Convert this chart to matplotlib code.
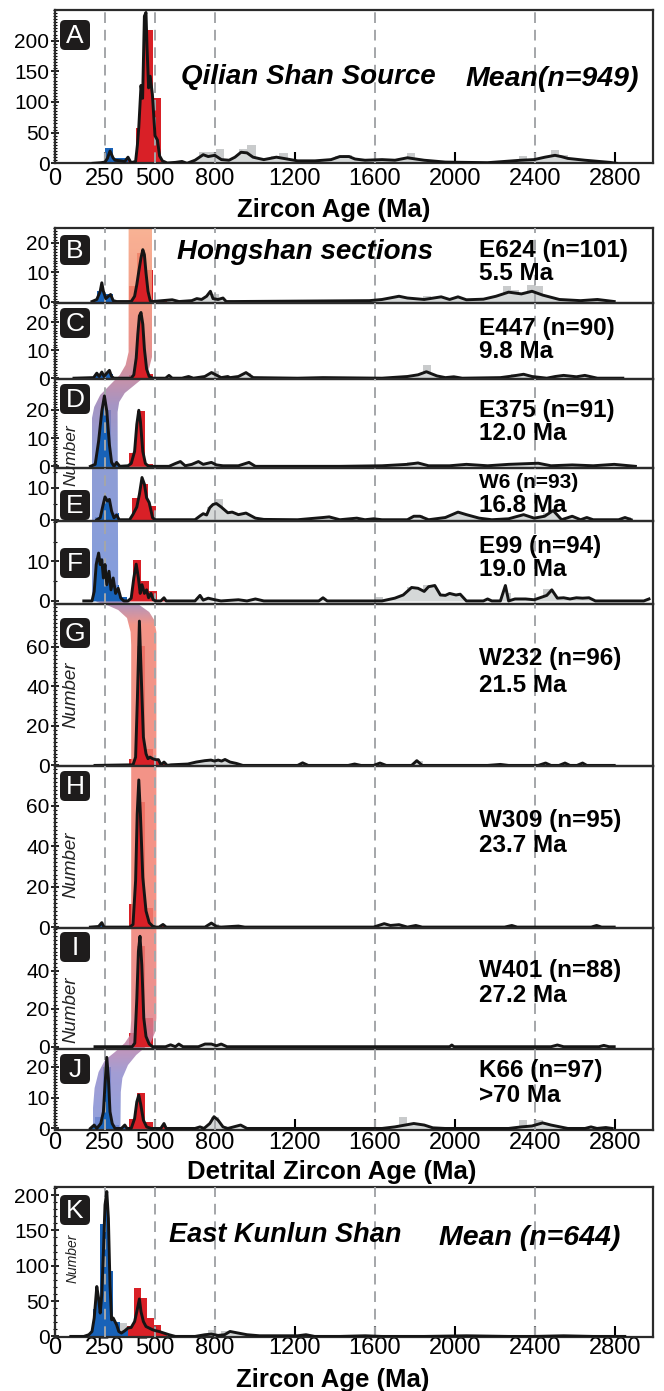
import numpy as np
import matplotlib
matplotlib.use('Agg')
import matplotlib.pyplot as plt
import matplotlib.patches as mpatches
import matplotlib.transforms as mtransforms
from matplotlib.ticker import MultipleLocator

plt.rcParams['font.family'] = ['Liberation Sans', 'DejaVu Sans']

# ---- data: (age Ma, number) for the density curves ----
A_kde = [(190, 0), (230, 1), (250, 2), (262, 8), (275, 20), (290, 9), (300, 5), (330, 4), (349, 3), (365, 10),
         (380, 1), (403, 3), (412, 30), (419, 59), (430, 127), (438, 106), (447, 240), (455, 246), (460, 190),
         (468, 123), (476, 142), (487, 112), (500, 45), (512, 38), (523, 12), (537, 4), (561, 0.5), (602, 1.5),
         (635, 3), (660, 0), (700, 5), (741, 14), (766, 11), (799, 13), (832, 6), (870, 5), (900, 10), (930, 18),
         (960, 17), (990, 10), (1044, 6), (1107, 10), (1160, 7), (1213, 4), (1300, 4), (1380, 6), (1424, 11),
         (1470, 11), (1500, 7), (1550, 5), (1635, 6), (1700, 5), (1762, 9), (1846, 5), (1952, 2), (2163, 1),
         (2330, 5), (2395, 6), (2450, 10), (2500, 13), (2530, 11), (2564, 8), (2650, 5), (2775, 1.5), (2807, 0)]
B_kde = [(185, 0), (209, 0.7), (226, 3.5), (234, 6.4), (242, 3.5), (254, 1), (267, 1.8), (278, 2.4), (291, 0.3),
         (308, 0), (381, 0), (398, 1.8), (409, 5.8), (419, 10.3), (430, 14.9), (439, 17.7), (447, 16), (455, 9.8),
         (465, 3.5), (476, 0.3), (488, 0), (586, 0.6), (620, 0), (684, 0.3), (709, 1), (733, 0.7), (758, 1.8),
         (777, 3.5), (790, 1), (815, 0.7), (840, 1.2), (856, 0), (896, 0), (1572, 0.3), (1635, 0.7), (1720, 1.8),
         (1762, 1.2), (1846, 0.7), (1931, 1.6), (1973, 0.7), (2015, 1.6), (2057, 0.6), (2142, 0.8), (2205, 1.8),
         (2268, 3.2), (2332, 2.6), (2385, 3.5), (2438, 2.2), (2522, 0.7), (2628, 0.3), (2712, 0.7), (2796, 0)]
C_kde = [(95, 0), (193, 0.2), (209, 1.8), (221, 0.6), (234, 2.2), (245, 0.6), (259, 1.8), (272, 2.8), (283, 0.6),
         (295, 0), (381, 0), (394, 1.2), (406, 7.2), (414, 15.7), (422, 22.3), (430, 23.5), (439, 19.3), (447, 10.5),
         (458, 3.3), (471, 0.6), (488, 0), (553, 0), (570, 1), (586, 0), (635, 0), (668, 0.6), (692, 0), (749, 0.6),
         (782, 2), (807, 1.1), (831, 0.2), (864, 0.6), (875, 0.2), (917, 0.6), (955, 2), (991, 0.2), (1213, 0),
         (1340, 0.2), (1635, 0), (1762, 0.6), (1815, 1.2), (1857, 2.3), (1910, 0.8), (1952, 0.2), (1994, 0.5),
         (2036, 0), (2227, 0.2), (2290, 0.8), (2343, 1.4), (2385, 0.6), (2459, 0), (2501, 0.6), (2543, 1),
         (2607, 0.5), (2649, 1), (2712, 0), (2839, 0)]
D_kde = [(177, 0), (201, 0.7), (218, 8.9), (234, 19.6), (247, 25), (259, 19.6), (272, 7.7), (283, 1.4), (295, 0),
         (308, 1.4), (324, 0), (365, 0.2), (381, 1), (398, 5.3), (409, 14.9), (419, 19.9), (427, 16), (439, 5.3),
         (452, 1), (468, 0), (570, 0), (602, 1), (627, 1.7), (651, 0.2), (684, 0.7), (717, 1.7), (741, 0.7),
         (782, 1.4), (807, 0.5), (840, 0.2), (917, 0.2), (970, 1.4), (1002, 0), (1424, 0), (1635, 0.2), (1762, 0.7),
         (1815, 1.2), (1868, 0.2), (1973, 0.2), (2057, 0.7), (2163, 0.2), (2268, 0.7), (2416, 1.1), (2480, 0.2),
         (2586, 0.5), (2691, 0.2), (2796, 0.7), (2902, 0)]
E_kde = [(209, 0), (226, 0.6), (239, 4.3), (250, 7.2), (262, 5.9), (272, 6.4), (283, 2.7), (295, 0.6), (308, 1.5),
         (321, 0), (373, 0), (390, 1.7), (409, 4), (422, 8), (435, 13.3), (447, 11.2), (458, 6.9), (471, 5.4),
         (488, 0.6), (501, 0), (700, 0), (725, 1.2), (741, 1.9), (758, 1.5), (774, 3.8), (790, 4.8), (807, 5.1),
         (831, 4), (864, 2.2), (886, 2.4), (917, 1.6), (955, 2.1), (1002, 0.5), (1044, 0.1), (1213, 0), (1340, 0.7),
         (1371, 0.9), (1424, 0), (1509, 0.5), (1550, 0), (1593, 0.3), (1635, 0), (1762, 0), (1794, 1.1), (1825, 1.1),
         (1868, 0), (1952, 0.7), (2015, 2.4), (2057, 1.6), (2121, 0.5), (2184, 0), (2268, 0.3), (2343, 1.6),
         (2396, 0.5), (2448, 1.1), (2491, 2.9), (2533, 0), (2586, 1.1), (2628, 0), (2659, 0.7), (2691, 0),
         (2818, 0), (2850, 0.7), (2881, 0)]
F_kde = [(144, 0), (185, 0), (196, 2.4), (206, 9.2), (218, 12.1), (226, 9.2), (234, 10.4), (242, 5.8), (250, 9.2),
         (259, 4.1), (270, 7.5), (280, 2.8), (291, 5.8), (303, 1.9), (316, 3.2), (329, 0.7), (344, 0), (365, 0),
         (381, 0.7), (394, 5.8), (406, 9.3), (417, 5.8), (426, 1.9), (435, 4.1), (447, 1.9), (458, 2.8), (468, 0.8),
         (480, 1.9), (491, 0.3), (504, 0), (529, 0), (545, 0.8), (556, 0), (700, 0), (725, 1.4), (741, 0.2),
         (766, 0.7), (799, 0.3), (830, 0), (917, 0.3), (960, 0), (1002, 0.5), (1044, 0), (1319, 0), (1340, 0.8),
         (1361, 0), (1635, 0), (1699, 0.7), (1741, 1.5), (1783, 3.4), (1815, 3.2), (1846, 2.4), (1868, 3.6),
         (1899, 3.9), (1927, 1.5), (1952, 1.4), (1973, 1.9), (2005, 1.5), (2026, 1.7), (2057, 0), (2142, 0),
         (2163, 0.5), (2184, 0), (2227, 0), (2252, 3.9), (2268, 0), (2300, 0.5), (2353, 0.5), (2396, 0.3),
         (2459, 1.4), (2484, 2.8), (2512, 0.7), (2543, 0.8), (2575, 0.5), (2607, 0.8), (2638, 0.7), (2670, 0.8),
         (2702, 0), (2944, 0), (2970, 0.5)]
G_kde = [(200, 0), (390, 0.3), (403, 4.2), (412, 34), (422, 73), (432, 43), (442, 14.3), (455, 5.9), (465, 3.4),
         (475, 4.2), (488, 3.4), (504, 2.9), (517, 2.9), (530, 0.3), (545, 1.7), (561, 0), (580, 0.3), (664, 0.7),
         (706, 1.7), (749, 2.4), (780, 2.7), (797, 2.2), (816, 2.7), (833, 2.2), (850, 3), (875, 1.7), (907, 1),
         (939, 0), (1213, 0), (1238, 1.3), (1266, 0), (1466, 0), (1498, 0.7), (1530, 0), (1593, 0), (1625, 1.2),
         (1656, 0), (1783, 0), (1809, 2.4), (1836, 0), (2163, 0), (2227, 0.5), (2268, 0), (2416, 0), (2453, 1.2),
         (2480, 0), (2520, 0), (2550, 1.2), (2575, 0), (2610, 0), (2638, 1.2), (2659, 0), (2796, 0)]
H_kde = [(177, 0), (218, 0.3), (234, 2.2), (245, 0), (373, 0), (390, 1.3), (403, 23), (411, 56), (419, 72.8),
         (427, 56), (439, 24.6), (455, 8), (471, 2.2), (488, 0.5), (504, 0), (520, 0), (540, 1.3), (556, 0),
         (750, 0), (782, 2), (807, 0.3), (830, 0), (917, 0.5), (949, 0), (1593, 0), (1646, 1.7), (1677, 0.8),
         (1720, 1.2), (1762, 0), (1804, 0.8), (1836, 0), (2248, 0), (2284, 0.8), (2311, 0), (2681, 0), (2708, 0.8),
         (2733, 0), (2796, 0)]
I_kde = [(200, 0), (386, 0), (399, 1.9), (409, 25), (417, 50), (425, 58), (434, 43), (444, 15), (455, 5.4),
         (471, 1.4), (488, 0), (553, 0), (578, 1), (602, 0), (619, 1.4), (640, 0), (717, 0), (750, 1.4), (782, 1.4),
         (807, 0.5), (831, 1.4), (860, 0), (1973, 0), (1984, 0.9), (1995, 0), (2480, 0), (2512, 0.9), (2543, 0),
         (2720, 0), (2744, 0.7), (2770, 0), (2796, 0)]
J_kde = [(177, 0), (196, 1.1), (209, 0), (229, 1.6), (242, 5.4), (250, 14), (259, 23), (267, 16.2), (275, 5.4),
         (286, 1.6), (300, 0), (332, 0), (349, 1.1), (360, 0), (381, 0), (398, 3.2), (409, 8.6), (419, 10.8),
         (429, 7.6), (442, 2.7), (458, 0.5), (480, 0), (529, 0), (545, 1.6), (556, 0), (700, 0), (725, 0.5),
         (745, 0), (774, 1.6), (795, 3.8), (815, 2.7), (840, 0.5), (864, 0), (928, 1.1), (960, 0), (1635, 0),
         (1699, 0.5), (1751, 1.1), (1794, 1.6), (1846, 1.1), (1889, 0.2), (1950, 0), (2268, 0), (2332, 0.5),
         (2385, 0.8), (2438, 1.8), (2480, 1.1), (2564, 0), (2650, 0), (2680, 0.5), (2710, 0), (2754, 0.3), (2786, 0)]
K_kde = [(79, 0), (144, 0), (169, 2.4), (185, 7), (196, 26), (209, 70.6), (218, 54), (226, 33), (234, 59),
         (242, 120), (250, 186), (259, 205), (267, 167), (275, 73), (283, 23.5), (291, 26), (300, 21), (308, 16.5),
         (319, 7), (332, 4.7), (349, 8), (365, 11.8), (381, 12.7), (398, 21), (409, 35), (422, 53), (430, 35),
         (442, 21), (455, 14), (471, 11.8), (488, 9.4), (504, 8), (520, 7), (545, 4.7), (570, 2.4), (602, 0),
         (700, 0), (750, 2.4), (782, 3.3), (815, 1.4), (848, 2.4), (875, 7), (917, 4.7), (960, 2.4), (1023, 0.9),
         (1213, 0.9), (1255, 2.4), (1298, 0), (1424, 0), (1551, 0.9), (1635, 0), (1846, 0), (2057, 0.9), (2268, 0),
         (2396, 0), (2543, 0.9), (2691, 0), (2849, 0)]

# histogram bars: (bin start Ma, count, group)  b = 200-300 Ma, r = 400-500 Ma, g = other
A_bars = [(250, 25, 'b'), (292, 8, 'b'), (334, 8, 'b'), (405, 57, 'r'), (447, 217, 'r'), (489, 106, 'r'),
          (720, 18, 'g'), (762, 18, 'g'), (804, 24, 'g'), (920, 23, 'g'), (962, 30, 'g'), (1080, 12, 'g'),
          (1122, 16, 'g'), (1400, 12, 'g'), (1442, 14, 'g'), (1760, 16, 'g'), (2320, 12, 'g'), (2480, 22, 'g'),
          (2522, 14, 'g')]
B_bars = [(210, 3.5, 'b'), (250, 2.4, 'b'), (370, 5.2, 'r'), (410, 16.6, 'r'), (450, 10.6, 'r'),
          (780, 2.4, 'g'), (1840, 2, 'g'), (2240, 5.2, 'g'), (2280, 4, 'g'), (2360, 5.5, 'g'), (2400, 5.2, 'g')]
C_bars = [(210, 1.5, 'b'), (250, 1.5, 'b'), (370, 1, 'r'), (410, 6.6, 'r'), (450, 1.5, 'r'),
          (780, 2.4, 'g'), (940, 2, 'g'), (1840, 4.8, 'g'), (2280, 1.5, 'g')]
D_bars = [(200, 2.9, 'b'), (240, 20, 'b'), (280, 1, 'b'), (370, 4.9, 'r'), (410, 19.6, 'r'), (450, 1, 'r'),
          (1760, 1.5, 'g'), (2360, 1.2, 'g')]
E_bars = [(200, 1, 'b'), (240, 5, 'b'), (280, 2, 'b'), (385, 7, 'r'), (425, 11.2, 'r'), (465, 4.3, 'r'),
          (760, 4, 'g'), (800, 6.4, 'g'), (1800, 1.5, 'g'), (2000, 1.5, 'g'), (2440, 2, 'g'), (2840, 1, 'g')]
F_bars = [(200, 10.8, 'b'), (240, 4.5, 'b'), (280, 4.1, 'b'), (320, 1.1, 'b'), (390, 10.4, 'r'), (430, 5.1, 'r'),
          (470, 2.4, 'r'), (1600, 1, 'g'), (1760, 3.5, 'g'), (1840, 4, 'g'), (2240, 2, 'g'), (2440, 3, 'g')]
G_bars = [(372, 3, 'r'), (412, 60.5, 'r'), (452, 8.4, 'r'), (800, 2, 'g'), (1800, 2, 'g')]
H_bars = [(372, 11.3, 'r'), (412, 62, 'r'), (452, 9.6, 'r'), (780, 1.5, 'g'), (1640, 1.5, 'g')]
I_bars = [(372, 7.2, 'r'), (412, 52.8, 'r'), (452, 15, 'r'), (780, 1.5, 'g')]
J_bars = [(200, 3.8, 'b'), (240, 20, 'b'), (280, 1, 'b'), (372, 3.2, 'r'), (412, 11.4, 'r'), (452, 2, 'r'),
          (780, 3.8, 'g'), (1720, 3.8, 'g'), (2320, 2.7, 'g'), (2400, 2.7, 'g')]
K_bars = [(190, 39, 'b'), (224, 159, 'b'), (258, 92, 'b'), (292, 21, 'b'), (326, 19, 'g'), (360, 15, 'r'),
          (394, 68, 'r'), (428, 54, 'r'), (462, 26, 'r'), (496, 16.5, 'r'), (730, 4, 'g'), (764, 9, 'g'),
          (830, 7, 'g'), (864, 7, 'g')]

samples = ['E624 (n=101)', 'E447 (n=90)', 'E375 (n=91)', 'W6 (n=93)', 'E99 (n=94)',
           'W232 (n=96)', 'W309 (n=95)', 'W401 (n=88)', 'K66 (n=97)']
dep_ages = ['5.5 Ma', '9.8 Ma', '12.0 Ma', '16.8 Ma', '19.0 Ma', '21.5 Ma', '23.7 Ma', '27.2 Ma', '>70 Ma']
age_ticks = [0, 250, 500, 800, 1200, 1600, 2000, 2400, 2800]
dashed_ages = [250, 500, 800, 1600, 2400]

# ribbon linking the populations between panels: (age Ma, figure pixel row)
band_left = [(368, 228), (368, 352), (353, 365), (324, 375), (275, 385), (226, 395), (196, 407), (185, 418),
             (185, 595), (209, 602), (259, 605), (316, 610), (360, 618), (378, 632), (381, 645), (381, 1020),
             (376, 1035), (349, 1043), (300, 1052), (250, 1060), (218, 1072), (198, 1088), (190, 1108), (190, 1131)]
band_right = [(327, 1131), (329, 1092), (337, 1078), (365, 1065), (406, 1055), (447, 1048), (480, 1042),
              (501, 1032), (507, 1018), (507, 632), (496, 620), (471, 612), (422, 605), (357, 602), (316, 597),
              (313, 412), (321, 402), (349, 393), (398, 385), (447, 377), (471, 368), (485, 357), (485, 228)]
band_stops = [(228, (248, 165, 130)), (300, (242, 140, 115)), (345, (232, 125, 118)), (375, (195, 125, 150)),
              (405, (150, 130, 185)), (450, (125, 140, 205)), (590, (110, 140, 215)), (603, (160, 130, 180)),
              (625, (240, 130, 115)), (900, (243, 128, 112)), (1010, (232, 125, 125)), (1045, (190, 130, 170)),
              (1075, (145, 140, 205)), (1131, (125, 145, 215))]

W, H = 664, 1391
XMAX = 2990
LEFT, RIGHT = 55, 653
BLUE, RED = '#1862b8', '#d92027'
BAR_COLORS = {'b': BLUE, 'r': RED, 'g': '#c9cbcc'}
FILL_RANGES = [(0, 365, BLUE), (365, 560, RED), (560, XMAX + 100, '#d5d8d8')]

fig = plt.figure(figsize=(W / 100, H / 100), dpi=100)
px = mtransforms.Affine2D().scale(1 / W, -1 / H).translate(0, 1) + fig.transFigure

# vertical gradient for the ribbon
rows = np.arange(227, 1132)
sy = [s[0] for s in band_stops]
grad = np.ones((len(rows), 1, 4))
for k in range(3):
    grad[:, 0, k] = np.interp(rows, sy, [s[1][k] / 255 for s in band_stops])
grad[:, 0, 3] = 0.85
band_verts = band_left + band_right


def draw_panel(ax, kde, bars, bin_w, ylim, yticks, yminor, band=False):
    age = np.array([p[0] for p in kde], float)
    n = np.array([p[1] for p in kde], float)
    for left, h, grp in bars:
        ax.bar(left, h, width=bin_w, align='edge', color=BAR_COLORS[grp], linewidth=0, zorder=1)
    if band:
        btr = mtransforms.blended_transform_factory(ax.transData, px)
        im = ax.imshow(grad, extent=(0, XMAX, 1131, 227), origin='upper', aspect='auto',
                       transform=btr, zorder=1.5, interpolation='bilinear')
        im.set_clip_path(mpatches.Polygon(band_verts, closed=True, transform=btr))
    for lo, hi, c in FILL_RANGES:
        f = ax.fill_between(age, 0, n, color=c, linewidth=0, zorder=2)
        f.set_clip_path(mpatches.Rectangle((lo, -1e4), hi - lo, 1e6, transform=ax.transData))
    for a in dashed_ages:
        ax.axvline(a, color='#a4a6a9', lw=1.4, dashes=(5.5, 3.5), zorder=3)
    ax.plot(age, n, color='#151515', lw=2.1, zorder=4, solid_joinstyle='round')
    ax.set_xlim(0, XMAX)
    ax.set_ylim(*ylim)
    ax.set_facecolor('none')
    ax.set_yticks(yticks)
    ax.yaxis.set_minor_locator(MultipleLocator(yminor))
    ax.tick_params(axis='y', which='major', direction='inout', length=6, width=1.2, labelsize=15, pad=1)
    ax.tick_params(axis='y', which='minor', direction='inout', length=3.5, width=0.8)
    for sp in ax.spines.values():
        sp.set_linewidth(1.6)
        sp.set_color('#2b2b2b')


def add_axes_px(top, bottom):
    return fig.add_axes([LEFT / W, 1 - bottom / H, (RIGHT - LEFT) / W, (bottom - top) / H])


def ftext(x, y, s, **kw):
    fig.text(x, y, s, transform=px, **kw)


# panel setup: kde, bars, bin width, top px, bottom px, ylim, yticks, minor step
panels = [
    ('A', A_kde, A_bars, 42, 10, 163.3, (0, 250), [0, 50, 100, 150, 200], 5),
    ('B', B_kde, B_bars, 40, 227.7, 302.7, (-0.4, 25.2), [0, 10, 20], 1),
    ('C', C_kde, C_bars, 40, 302.7, 379.3, (-0.4, 27), [0, 10, 20], 1),
    ('D', D_kde, D_bars, 40, 379.3, 468.3, (-0.7, 30.9), [0, 10, 20], 1),
    ('E', E_kde, E_bars, 40, 468.3, 521, (-0.4, 16.2), [0, 10], 5),
    ('F', F_kde, F_bars, 40, 521, 604.3, (-0.85, 20.2), [0, 10], 5),
    ('G', G_kde, G_bars, 40, 604.3, 766, (-0.3, 81.5), [0, 20, 40, 60], 2),
    ('H', H_kde, H_bars, 40, 766, 927.7, (-0.3, 79.7), [0, 20, 40, 60], 2),
    ('I', I_kde, I_bars, 40, 927.7, 1049, (-1.2, 62.5), [0, 20, 40], 2),
    ('J', J_kde, J_bars, 40, 1049, 1130.3, (-0.6, 25.7), [0, 10, 20], 1),
    ('K', K_kde, K_bars, 34, 1187.3, 1336.7, (-0.4, 211), [0, 50, 100, 150, 200], 10),
]
axes = {}
for name, kde, bars, bw, top, bottom, ylim, yt, ymin in panels:
    ax = add_axes_px(top, bottom)
    draw_panel(ax, kde, bars, bw, ylim, yt, ymin, band=name in 'BCDEFGHIJ')
    if name in 'AJK':
        ax.set_xticks(age_ticks)
        ax.tick_params(axis='x', direction='in', length=8, width=1.5, labelsize=17,
                       pad={'A': 3.5, 'J': 1.0, 'K': 0.5}[name])
    else:
        ax.set_xticks([])
    axes[name] = ax

# panel letters
letter_y = {'A': 35, 'B': 250, 'C': 323, 'D': 399, 'E': 505, 'F': 563, 'G': 633, 'H': 786,
            'I': 947, 'J': 1069, 'K': 1210}
for name, cy in letter_y.items():
    box = mpatches.FancyBboxPatch((60, cy - 15), 30, 30, boxstyle='round,pad=0,rounding_size=5',
                                  transform=px, facecolor='#1e1c1c', edgecolor='none', zorder=10)
    fig.add_artist(box)
    ftext(75, cy + 1, name, color='white', ha='center', va='center', fontsize=19, zorder=11)

# titles
ftext(181, 77, 'Qilian Shan Source', fontsize=20, weight='bold', style='italic', va='center')
ftext(466, 79, 'Mean(n=949)', fontsize=20.5, weight='bold', style='italic', va='center')
ftext(177, 252, 'Hongshan sections', fontsize=20, weight='bold', style='italic', va='center')
ftext(169, 1235, 'East Kunlun Shan', fontsize=19.5, weight='bold', style='italic', va='center')
ftext(439, 1238, 'Mean (n=644)', fontsize=20.5, weight='bold', style='italic', va='center')

# sample names and depositional ages
sample_y = [(250, 274), (328, 352), (410, 433), (483, 505), (547, 570), (658, 685), (820, 845), (970, 995),
            (1070, 1095)]
for s, a, (y1, y2) in zip(samples, dep_ages, sample_y):
    fs = 15 if s.startswith('W6') else 17.5
    ftext(479, y1, s, fontsize=fs, weight='bold', va='center')
    ftext(479, y2, a, fontsize=17.5, weight='bold', va='center')

# y labels
for cx, cy, fs in [(71, 455, 12.5), (71, 695, 13.5), (71, 865, 13.5), (71, 1010, 13.5), (73, 1258, 10)]:
    ftext(cx, cy, 'Number', rotation=90, style='italic', ha='center', va='center', fontsize=fs,
          color='#222222', zorder=5)

# x labels
ftext(334, 210, 'Zircon Age (Ma)', fontsize=18.5, weight='bold', ha='center', va='center')
ftext(332, 1172, 'Detrital Zircon Age (Ma)', fontsize=18.5, weight='bold', ha='center', va='center')
ftext(333, 1380, 'Zircon Age (Ma)', fontsize=18.5, weight='bold', ha='center', va='center')

fig.savefig('out.png', dpi=100)
